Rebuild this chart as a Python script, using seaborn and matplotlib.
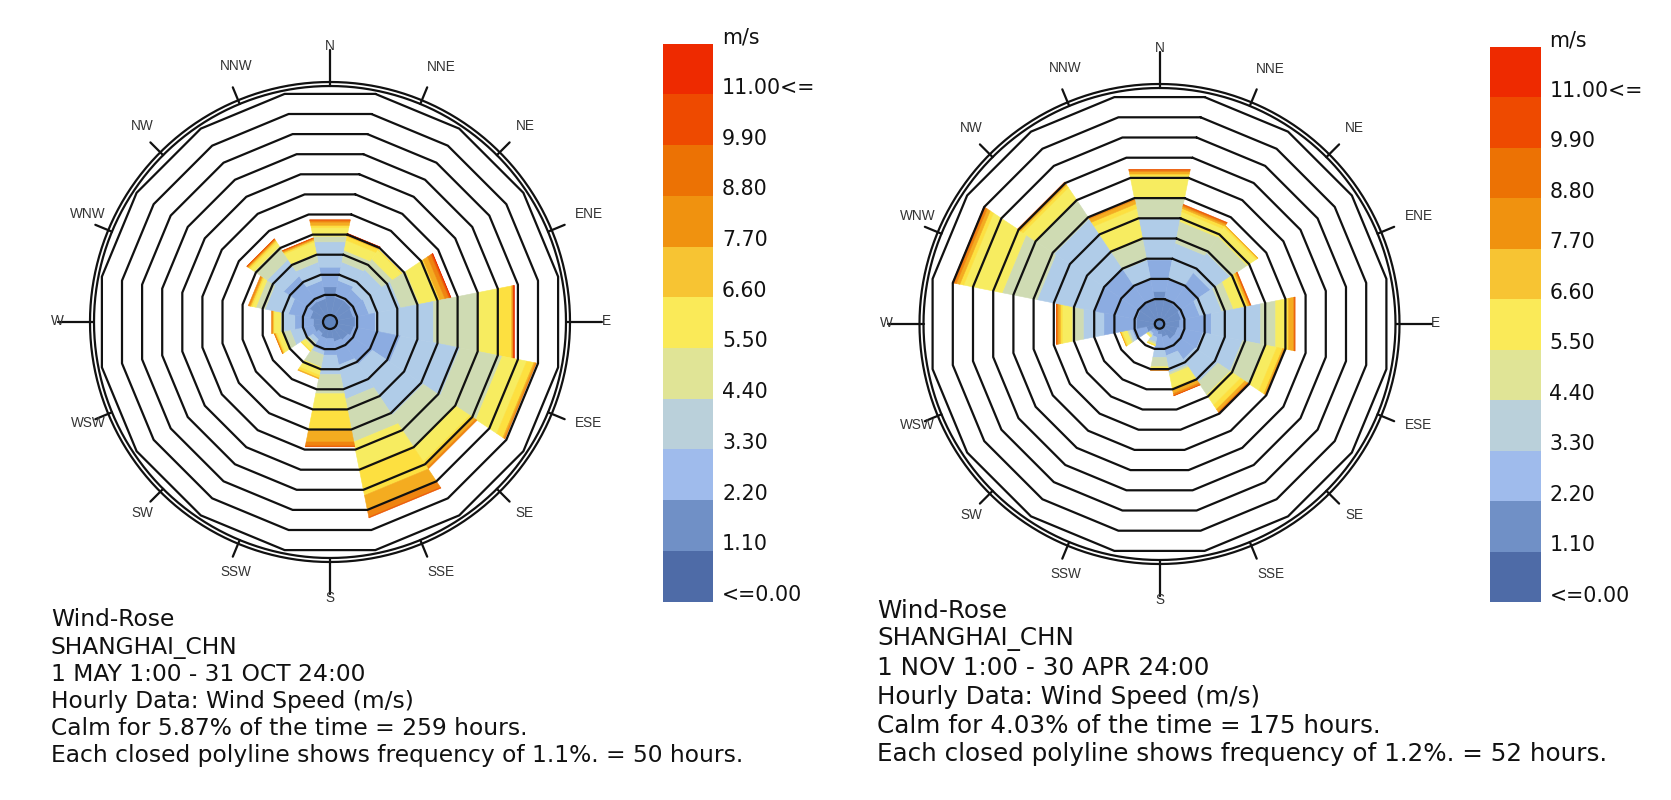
import numpy as np
import matplotlib
matplotlib.use('Agg')
import matplotlib.pyplot as plt
from matplotlib.colors import ListedColormap
import seaborn as sns

W_PX, H_PX = 1671, 800

DIRECTIONS = ['N', 'NNE', 'NE', 'ENE', 'E', 'ESE', 'SE', 'SSE',
              'S', 'SSW', 'SW', 'WSW', 'W', 'WNW', 'NW', 'NNW']
LEGEND_LABELS = ['m/s', '11.00<=', '9.90', '8.80', '7.70', '6.60',
                 '5.50', '4.40', '3.30', '2.20', '1.10', '<=0.00']
LEGEND_COLORS = ['#ee2a00', '#ee4a00', '#ec7204', '#f0920f', '#f7c433', '#faea58',
                 '#e0e496', '#bad0da', '#9fbbec', '#7090c6', '#4e6ba7']
BAND_COLORS = ['#6e8fc6', '#8cace1', '#b0cce8', '#cfdbb3', '#f7ec60',
               '#fde040', '#f4ac20', '#ef8410', '#ec5a05', '#e83000']

# hours per speed band (lowest band first), one row per direction
MAY_OCT_HOURS = [
    [70, 49, 63, 14, 21, 6, 8, 4, 2, 0],
    [45, 41, 46, 29, 25, 10, 3, 2, 1, 1],
    [45, 33, 58, 31, 27, 1, 0, 0, 0, 0],
    [41, 39, 79, 46, 46, 5, 13, 10, 4, 1],
    [45, 50, 145, 111, 50, 33, 3, 2, 1, 1],
    [42, 116, 148, 105, 61, 18, 4, 2, 0, 0],
    [36, 71, 149, 95, 42, 9, 8, 4, 0, 0],
    [32, 58, 85, 106, 66, 67, 37, 17, 2, 0],
    [24, 41, 48, 48, 41, 50, 29, 10, 2, 0],
    [24, 32, 9, 30, 20, 7, 2, 0, 0, 0],
    [17, 17, 11, 11, 11, 2, 0, 0, 0, 0],
    [24, 29, 29, 17, 16, 4, 2, 1, 0, 0],
    [24, 46, 29, 6, 17, 2, 2, 2, 0, 0],
    [32, 54, 58, 23, 9, 4, 3, 3, 0, 0],
    [42, 76, 49, 38, 11, 5, 3, 2, 1, 0],
    [41, 45, 46, 21, 29, 4, 3, 2, 1, 0],
]
NOV_APR_HOURS = [
    [72, 81, 108, 52, 56, 5, 6, 4, 2, 0],
    [50, 55, 91, 56, 25, 8, 5, 4, 2, 0],
    [48, 95, 60, 51, 27, 5, 1, 0, 0, 0],
    [44, 48, 57, 30, 31, 6, 5, 1, 2, 0],
    [40, 81, 127, 39, 26, 7, 13, 3, 1, 0],
    [35, 65, 102, 60, 28, 15, 4, 2, 0, 0],
    [35, 61, 69, 38, 31, 13, 8, 2, 1, 0],
    [22, 48, 43, 6, 33, 5, 10, 5, 1, 0],
    [14, 37, 23, 24, 5, 2, 1, 1, 0, 0],
    [7, 15, 13, 5, 3, 1, 0, 0, 0, 0],
    [7, 10, 4, 3, 4, 0, 0, 0, 0, 0],
    [22, 37, 8, 5, 12, 4, 1, 0, 0, 0],
    [47, 84, 53, 29, 25, 5, 6, 3, 1, 0],
    [48, 108, 147, 90, 99, 10, 9, 6, 3, 1],
    [53, 106, 149, 58, 36, 8, 5, 2, 2, 0],
    [50, 54, 49, 53, 79, 12, 10, 4, 0, 0],
]
MAY_OCT_TEXT = ['Wind-Rose', 'SHANGHAI_CHN', '1 MAY 1:00 - 31 OCT 24:00',
                'Hourly Data: Wind Speed (m/s)',
                'Calm for 5.87% of the time = 259 hours.',
                'Each closed polyline shows frequency of 1.1%. = 50 hours.']
NOV_APR_TEXT = ['Wind-Rose', 'SHANGHAI_CHN', '1 NOV 1:00 - 30 APR 24:00',
                'Hourly Data: Wind Speed (m/s)',
                'Calm for 4.03% of the time = 175 hours.',
                'Each closed polyline shows frequency of 1.2%. = 52 hours.']

# label offsets from rose centre in pixels, they do not sit on a clean circle
LABEL_DX = [0, 111, 195, 259, 276, 259, 195, 111, 0, -94, -188, -242, -273, -242, -188, -94]
LABEL_DY = [276, 255, 196, 108, 1, -101, -191, -250, -276, -250, -191, -101, 1, 108, 196, 256]
INK = '#111111'
LINE_W = 1.6
HALF_STEP = np.deg2rad(11.25)
ROSE_HALF = 300


def fig_xy(x, y):
    return x / W_PX, 1 - y / H_PX


def draw_rose(fig, cx, cy, hours, ring_hours, calm_px, ring_px):
    rect = [(cx - ROSE_HALF) / W_PX, 1 - (cy + ROSE_HALF) / H_PX,
            2 * ROSE_HALF / W_PX, 2 * ROSE_HALF / H_PX]
    ax = fig.add_axes(rect, projection='polar')
    ax.set_theta_zero_location('N')
    ax.set_theta_direction(-1)

    # flat edges carry the ring spacing, so vertices sit a bit further out
    vertex_px = ring_px / np.cos(HALF_STEP)
    px_per_hour = vertex_px / ring_hours
    origin = calm_px / ring_px * ring_hours
    ax.set_rorigin(-origin)
    ax.set_rlim(0, ROSE_HALF / px_per_hour - origin)
    ax.axis('off')

    def to_r(px):
        return px / px_per_hour - origin

    angles = np.deg2rad(np.arange(16) * 22.5)
    for th, row in zip(angles, hours):
        edges = np.concatenate([[0], np.cumsum(row)])
        for k, color in enumerate(BAND_COLORS):
            if row[k] == 0:
                continue
            ax.fill([th - HALF_STEP, th + HALF_STEP, th + HALF_STEP, th - HALF_STEP],
                    [edges[k], edges[k], edges[k + 1], edges[k + 1]],
                    facecolor=color, edgecolor=color, lw=0.4, zorder=2)

    ring_th = np.deg2rad(np.arange(17) * 22.5 + 11.25)
    for n in range(1, 12):
        ax.plot(ring_th, [n * ring_hours] * 17, color=INK, lw=LINE_W, zorder=3, clip_on=False)
    circle_th = np.linspace(0, 2 * np.pi, 361)
    for px in (236, 240):
        ax.plot(circle_th, [to_r(px)] * 361, color=INK, lw=LINE_W, zorder=3, clip_on=False)
    # polar patch has a hole below rorigin, calm disc must not be clipped to it
    ax.add_patch(plt.Circle((0.5, 0.5), calm_px / (2 * ROSE_HALF), transform=ax.transAxes,
                            facecolor='#5f84bd', edgecolor=INK, lw=LINE_W, zorder=4,
                            clip_on=False))

    for name, th, dx, dy in zip(DIRECTIONS, angles, LABEL_DX, LABEL_DY):
        tick_end = 272 if name in ('N', 'E', 'S', 'W') else 254
        ax.plot([th, th], [to_r(236), to_r(tick_end)], color=INK, lw=LINE_W, zorder=3, clip_on=False)
        x, y = fig_xy(cx + dx, cy - dy)
        fig.text(x, y, name, ha='center', va='center', fontsize=9.8,
                 family='Liberation Sans', color='#333333')


def draw_legend(fig, left, right, top, bottom, label_x):
    rect = [left / W_PX, 1 - bottom / H_PX, (right - left) / W_PX, (bottom - top) / H_PX]
    ax = fig.add_axes(rect)
    codes = np.arange(len(LEGEND_COLORS)).reshape(-1, 1)
    sns.heatmap(codes, cmap=ListedColormap(LEGEND_COLORS), cbar=False,
                xticklabels=False, yticklabels=False, ax=ax)
    cell = (bottom - top) / len(LEGEND_COLORS)
    for i, label in enumerate(LEGEND_LABELS):
        x, y = fig_xy(label_x, top + i * cell - 6.5)
        fig.text(x, y, label, ha='left', va='center', fontsize=14.8, color='#111111')


def draw_notes(fig, lines, x, first_y, step, size):
    for i, line in enumerate(lines):
        tx, ty = fig_xy(x, first_y + i * step)
        fig.text(tx, ty, line, ha='left', va='center', fontsize=size, color='#111111')


sns.set_theme(style='white')
plt.rcParams['font.family'] = ['DejaVu Sans']

fig = plt.figure(figsize=(W_PX / 100, H_PX / 100), dpi=100, facecolor='white')

draw_rose(fig, 330, 322, MAY_OCT_HOURS, 50, 7.0, 20.1)
draw_rose(fig, 1159.5, 324, NOV_APR_HOURS, 52, 4.7, 20.2)

draw_legend(fig, 663, 713, 43.7, 601.5, 722)
draw_legend(fig, 1490, 1541, 47, 602, 1549.5)

draw_notes(fig, MAY_OCT_TEXT, 51, 620, 27.1, 16.8)
draw_notes(fig, NOV_APR_TEXT, 877, 610.5, 28.8, 17.7)

fig.savefig('out.png', dpi=100, facecolor='white')
